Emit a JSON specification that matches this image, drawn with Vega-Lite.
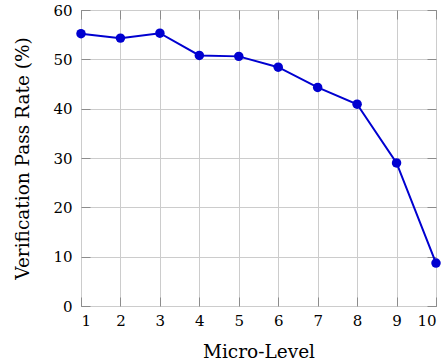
{
  "$schema": "https://vega.github.io/schema/vega-lite/v6.json",
  "width": 355,
  "height": 296,
  "autosize": {"type": "none"},
  "padding": {"left": 81, "top": 10, "right": 12, "bottom": 58},
  "background": "white",
  "config": {
    "font": "DejaVu Serif",
    "view": {"stroke": "black", "strokeWidth": 1},
    "axis": {
      "labelFont": "DejaVu Serif",
      "titleFont": "DejaVu Serif",
      "labelFontSize": 15,
      "titleFontSize": 18.5,
      "labelColor": "black",
      "titleColor": "black",
      "titleFontWeight": "normal",
      "domain": false,
      "gridColor": "#cccccc",
      "gridWidth": 1,
      "gridOpacity": 1,
      "tickColor": "#8c8c8c",
      "tickSize": -9,
      "tickWidth": 1
    }
  },
  "data": {
    "values": [
      {"level": 1, "rate": 55.2},
      {"level": 2, "rate": 54.3},
      {"level": 3, "rate": 55.3},
      {"level": 4, "rate": 50.8},
      {"level": 5, "rate": 50.6},
      {"level": 6, "rate": 48.4},
      {"level": 7, "rate": 44.3},
      {"level": 8, "rate": 40.9},
      {"level": 9, "rate": 29.0},
      {"level": 10, "rate": 8.7}
    ]
  },
  "layer": [
    {
      "mark": {"type": "line", "color": "#0000d0", "strokeWidth": 2},
      "encoding": {
        "x": {"field": "level", "type": "quantitative", "scale": {"domain": [1, 10], "nice": false},
              "axis": {"orient": "bottom", "values": [1,2,3,4,5,6,7,8,9,10], "title": "Micro-Level", "labelPadding": 16, "titleY": 36}},
        "y": {"field": "rate", "type": "quantitative", "scale": {"domain": [0, 60], "nice": false},
              "axis": {"orient": "left", "values": [0,10,20,30,40,50,60], "title": "Verification Pass Rate (%)", "labelPadding": 18, "titleX": -49}}
      }
    },
    {
      "mark": {"type": "circle", "color": "#0000d0", "opacity": 1, "size": 90},
      "encoding": {
        "x": {"field": "level", "type": "quantitative",
              "axis": {"orient": "top", "values": [1,2,3,4,5,6,7,8,9,10], "labels": false, "grid": false, "title": null}},
        "y": {"field": "rate", "type": "quantitative",
              "axis": {"orient": "right", "values": [0,10,20,30,40,50,60], "labels": false, "grid": false, "title": null}}
      }
    }
  ],
  "resolve": {"axis": {"x": "independent", "y": "independent"}}
}
